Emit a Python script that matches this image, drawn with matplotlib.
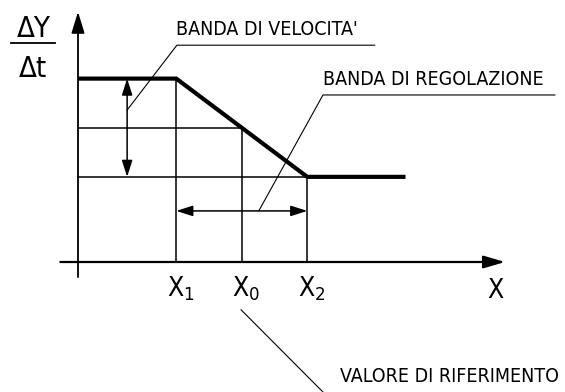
import matplotlib.pyplot as plt

plt.rcParams['font.family'] = ['DejaVu Sans']
plt.rcParams['font.stretch'] = 'condensed'
plt.rcParams['mathtext.default'] = 'regular'

# positions along X (X1, X0, X2) and the speed levels of the curve
x_marks = [1.5, 2.5, 3.5]
x_labels = ['X$_1$', 'X$_0$', 'X$_2$']
curve_x = [0.0, 1.5, 3.5, 5.0]
curve_y = [2.8, 2.8, 1.3, 1.3]
y_mid = 2.05

# leader lines for the notes
lead_vel = ([0.75, 1.51, 4.53], [2.32, 3.31, 3.31])
lead_reg = ([2.76, 3.74, 7.28], [0.78, 2.55, 2.55])
lead_rif = ([2.49, 3.74], [-0.73, -1.985])

fig = plt.figure(figsize=(5.65, 3.92), dpi=100)
ax = fig.add_axes([0, 0, 1, 1])
ax.set_xlim(-78 / 65.5, 487 / 65.5)
ax.set_ylim(-130 / 65.5, 262 / 65.5)
ax.axis('off')

k = 'black'
thin = 1.1

# axes with arrows
ax.annotate('', xy=(0, 3.82), xytext=(0, -0.23),
            arrowprops=dict(arrowstyle='-|>,head_length=1.3,head_width=0.4', lw=1.3,
                            color=k, shrinkA=0, shrinkB=0, mutation_scale=10))
ax.annotate('', xy=(6.52, 0), xytext=(-0.27, 0),
            arrowprops=dict(arrowstyle='-|>,head_length=1.3,head_width=0.38', lw=1.6,
                            color=k, shrinkA=0, shrinkB=0, mutation_scale=10))

# helper lines
ax.plot([0, x_marks[1]], [y_mid, y_mid], color=k, lw=thin)
ax.plot([0, x_marks[2]], [curve_y[-1], curve_y[-1]], color=k, lw=thin)
ax.plot([x_marks[0], x_marks[0]], [0, curve_y[0]], color=k, lw=thin)
ax.plot([x_marks[1], x_marks[1]], [0, y_mid], color=k, lw=thin)
ax.plot([x_marks[2], x_marks[2]], [0, curve_y[-1]], color=k, lw=thin)

# characteristic curve
ax.plot(curve_x, curve_y, color=k, lw=3.0, solid_joinstyle='miter', solid_capstyle='butt')

# band arrows
arr = dict(arrowstyle='<|-|>,head_length=1.0,head_width=0.32', lw=thin, color=k,
           shrinkA=0, shrinkB=0, mutation_scale=10)
ax.annotate('', xy=(0.75, curve_y[0]), xytext=(0.75, curve_y[-1]), arrowprops=arr)
ax.annotate('', xy=(x_marks[0], 0.78), xytext=(x_marks[2], 0.78), arrowprops=arr)

# leaders
for lx, ly in (lead_vel, lead_reg, lead_rif):
    ax.plot(lx, ly, color=k, lw=0.8)

fs = 14
ax.text(1.50, 3.47, "BANDA DI VELOCITA'", fontsize=fs, va='baseline', ha='left')
ax.text(3.74, 2.70, 'BANDA DI REGOLAZIONE', fontsize=fs, va='baseline', ha='left')
ax.text(4.00, -1.83, 'VALORE DI RIFERIMENTO', fontsize=fs, va='baseline', ha='left')

for xm, lab in zip(x_marks, x_labels):
    ax.text(xm + 0.07, -0.52, lab, fontsize=19, ha='center', va='baseline')
ax.text(6.37, -0.55, 'X', fontsize=19, ha='center', va='baseline')

# dY / dt
ax.text(-0.67, 3.44, '\u0394Y', fontsize=21, ha='center', va='baseline')
ax.plot([-1.02, -0.35], [3.34, 3.34], color=k, lw=1.3)
ax.text(-0.69, 2.82, '\u0394t', fontsize=21, ha='center', va='baseline')

fig.savefig('out.png', dpi=100)
